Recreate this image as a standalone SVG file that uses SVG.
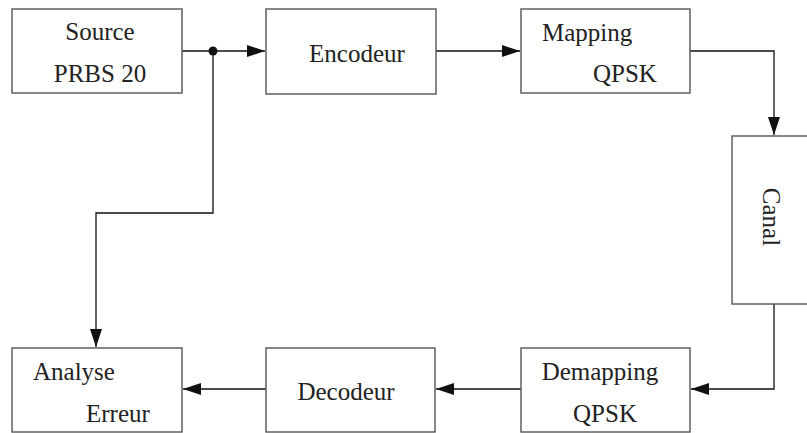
<svg xmlns="http://www.w3.org/2000/svg" width="807" height="433" viewBox="0 0 807 433">
<defs>
<marker id="ah" viewBox="0 0 18 12" refX="18" refY="6" markerWidth="18" markerHeight="12" markerUnits="userSpaceOnUse" orient="auto">
<path d="M0,0 L18,6 L0,12 Z" fill="#111"/>
</marker>
</defs>
<style>
.box{fill:#fff;stroke:#555;stroke-width:1.4}
.t{font-family:"Liberation Serif","Times New Roman",serif;font-size:25px;fill:#222}
.c{fill:none;stroke:#111;stroke-width:1.3}
</style>
<rect width="807" height="433" fill="#fff"/>
<g id="connectors">
<path class="c" d="M182,51 L265,51" marker-end="url(#ah)"/>
<circle cx="213" cy="51" r="4.5" fill="#111"/>
<path class="c" d="M213,51 L213,213 L96,213 L96,347" marker-end="url(#ah)"/>
<path class="c" d="M436,51 L520,51" marker-end="url(#ah)"/>
<path class="c" d="M690,51 L774,51 L774,135" marker-end="url(#ah)"/>
<path class="c" d="M774,304 L774,389 L691,389" marker-end="url(#ah)"/>
<path class="c" d="M521,389 L436,389" marker-end="url(#ah)"/>
<path class="c" d="M266,389 L183,389" marker-end="url(#ah)"/>
</g>
<g id="source">
<rect class="box" x="12" y="9" width="170" height="84"/>
<text class="t" x="100" y="40" text-anchor="middle">Source</text>
<text class="t" x="100" y="82" text-anchor="middle">PRBS 20</text>
</g>
<g id="encodeur">
<rect class="box" x="266" y="9" width="170" height="85"/>
<text class="t" x="357" y="62" text-anchor="middle">Encodeur</text>
</g>
<g id="mapping">
<rect class="box" x="521" y="9" width="169" height="84"/>
<text class="t" x="542" y="41">Mapping</text>
<text class="t" x="593" y="82">QPSK</text>
</g>
<g id="canal">
<rect class="box" x="732" y="136" width="80" height="168"/>
<text class="t" transform="translate(763,217) rotate(90)" text-anchor="middle">Canal</text>
</g>
<g id="demapping">
<rect class="box" x="521" y="348" width="169" height="84"/>
<text class="t" x="600" y="380" text-anchor="middle">Demapping</text>
<text class="t" x="605" y="422" text-anchor="middle">QPSK</text>
</g>
<g id="decodeur">
<rect class="box" x="266" y="348" width="169" height="84"/>
<text class="t" x="346" y="400" text-anchor="middle">Decodeur</text>
</g>
<g id="analyse">
<rect class="box" x="12" y="348" width="170" height="84"/>
<text class="t" x="33" y="380">Analyse</text>
<text class="t" x="86" y="422">Erreur</text>
</g>
</svg>
